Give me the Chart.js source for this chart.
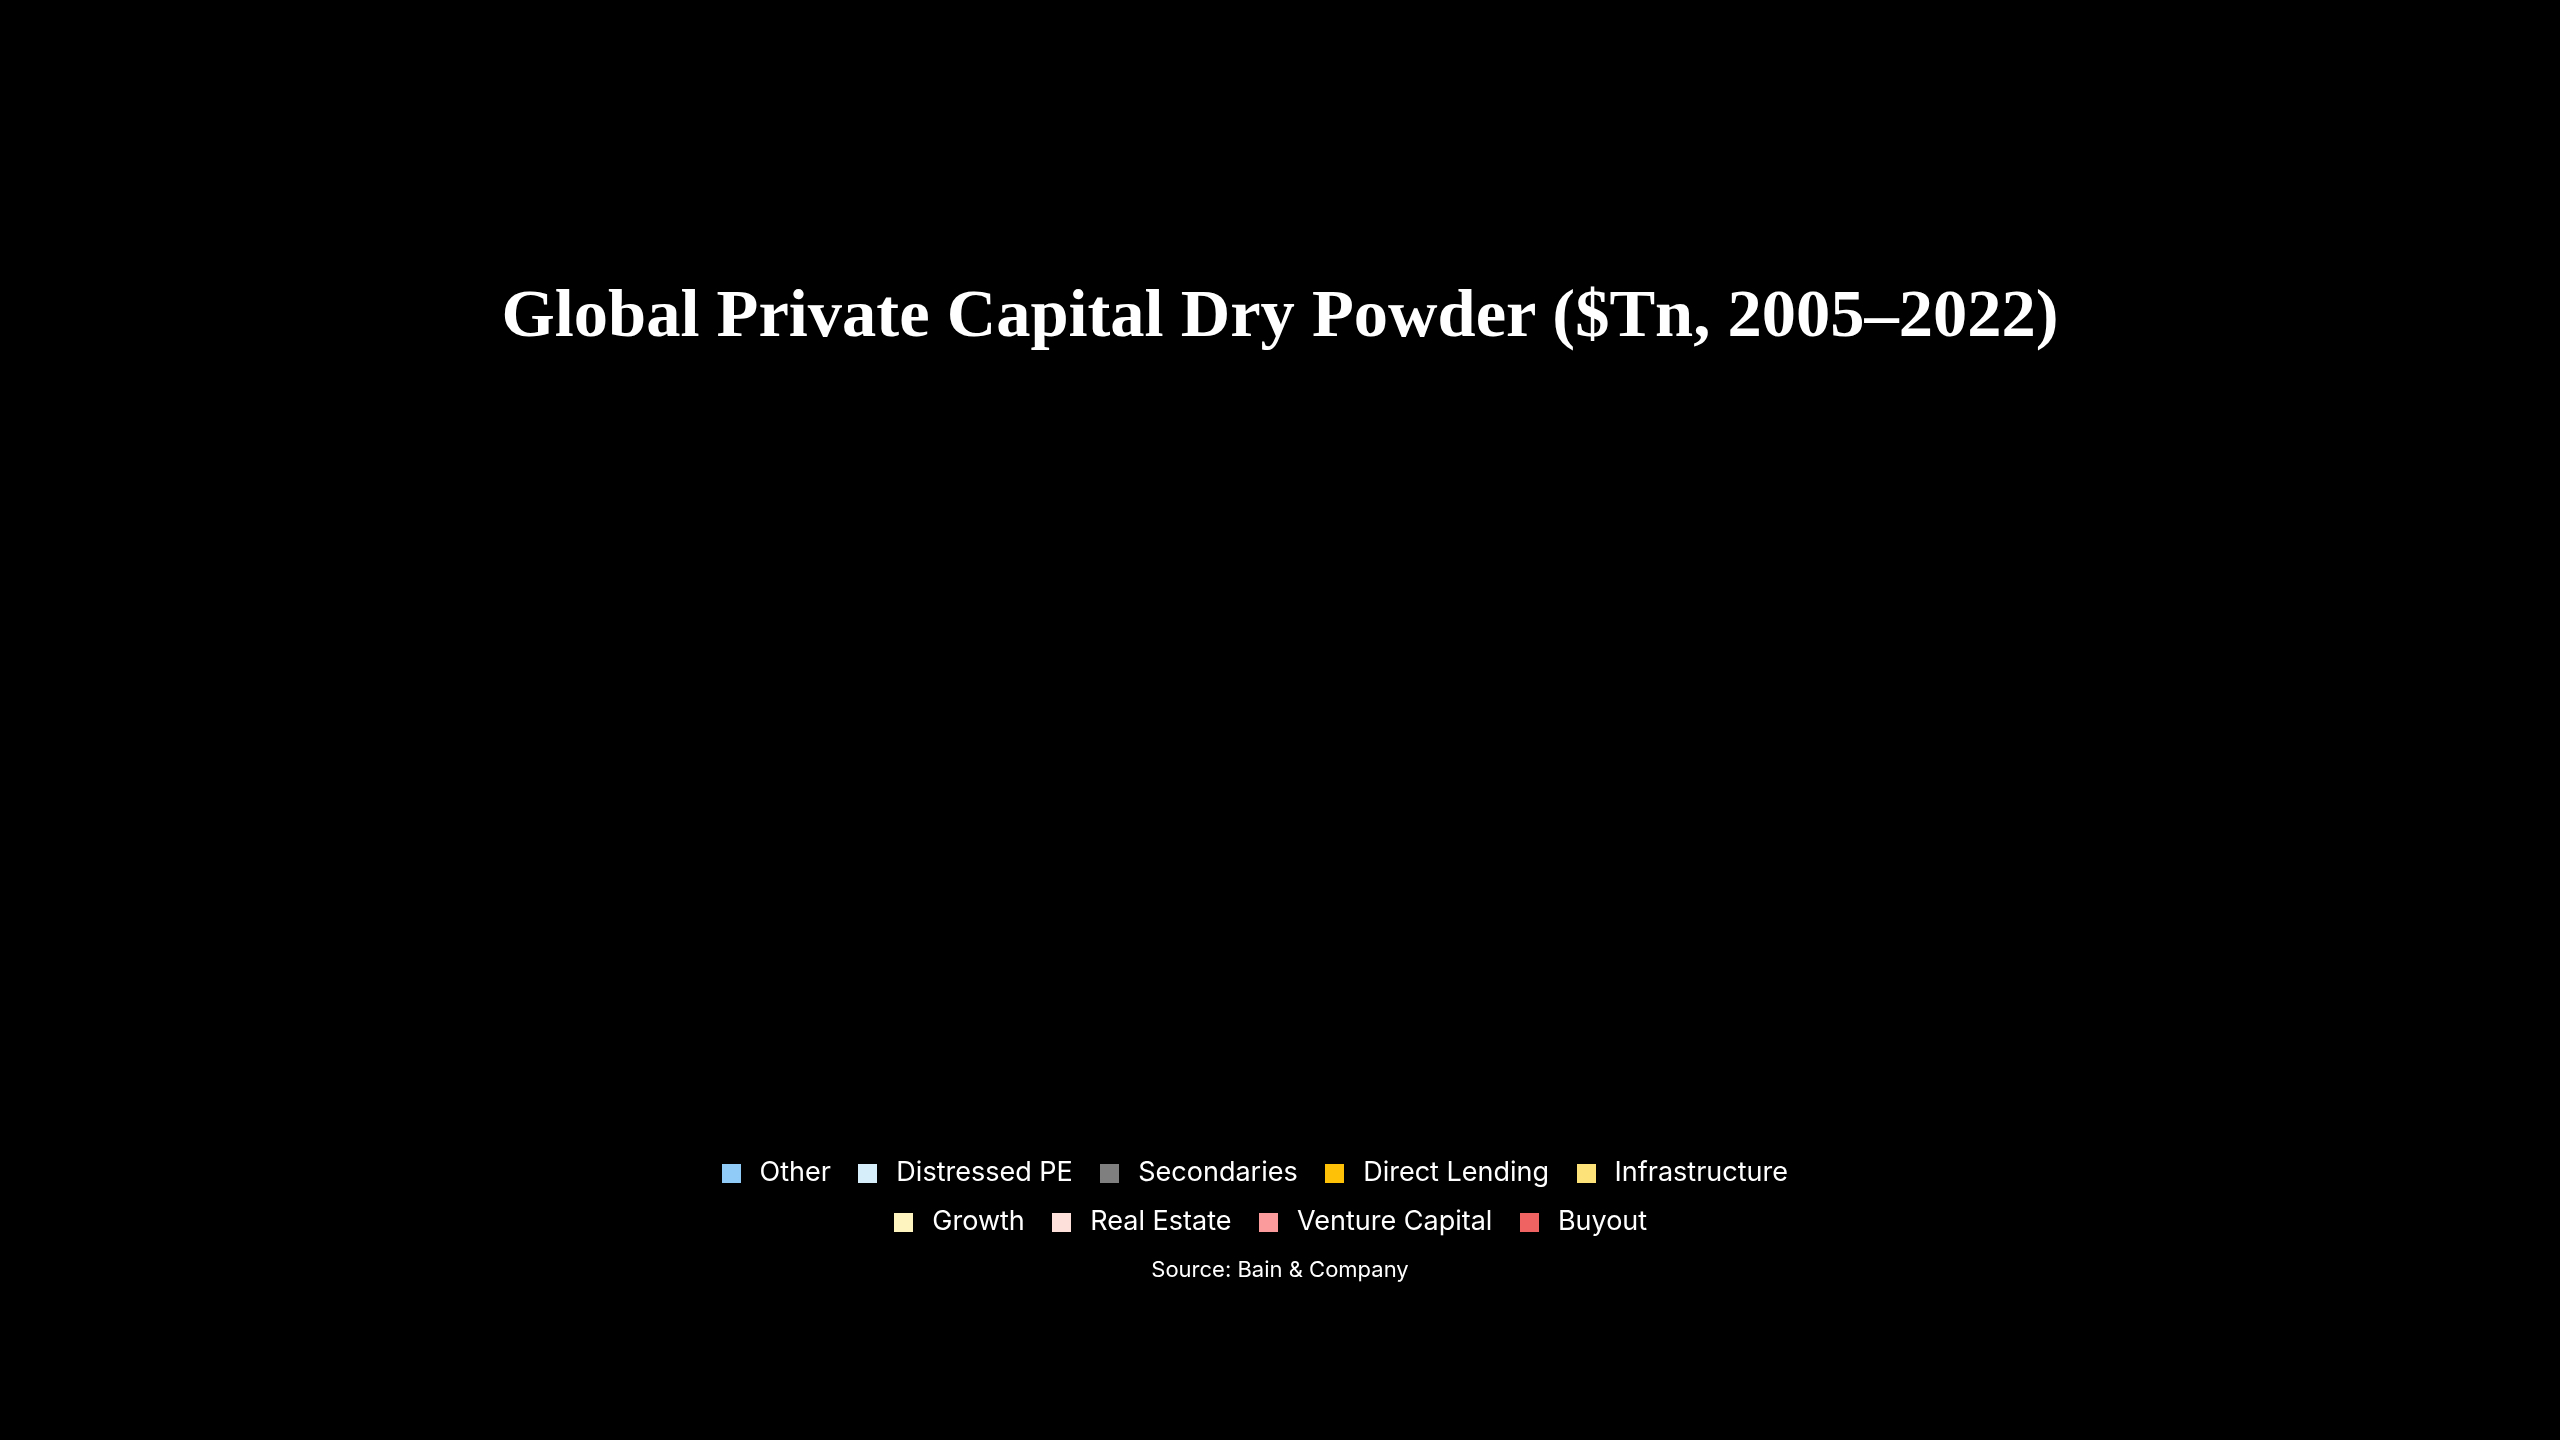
<!DOCTYPE html>
<html lang="en">
<head>
<meta charset="utf-8">
<title>Global Private Capital Dry Powder</title>
<script src="https://cdn.jsdelivr.net/npm/chart.js@4.4.1/dist/chart.umd.min.js"></script>
<style>
    html, body {
        margin: 0;
        padding: 0;
        background: #000;
    }
    body {
        width: 2560px;
        height: 1440px;
        position: relative;
        overflow: hidden;
    }
    h1 {
        position: absolute;
        top: 279px;
        left: 0;
        width: 100%;
        margin: 0;
        text-align: center;
        font: bold 68.5px/1 'Liberation Serif', serif;
        color: #fff;
    }
    .chart-wrap {
        position: absolute;
        left: 670px;
        top: 400px;
        width: 1220px;
        height: 884px;
    }
</style>
</head>
<body>
<h1>Global Private Capital Dry Powder ($Tn, 2005–2022)</h1>
<div class="chart-wrap"><canvas id="dryPowderChart"></canvas></div>

<script>
// Categories
const years = ['2005', '2006', '2007', '2008', '2009', '2010', '2011', '2012', '2013',
               '2014', '2015', '2016', '2017', '2018', '2019', '2020', '2021', '2022'];

// Series values ($Tn) - the reference plot area is blank, no bar can be read off it
const other = [];
const distressedPE = [];
const secondaries = [];
const directLending = [];
const infrastructure = [];
const growth = [];
const realEstate = [];
const ventureCapital = [];
const buyout = [];

const seriesNames = ['Other', 'Distressed PE', 'Secondaries', 'Direct Lending', 'Infrastructure',
                     'Growth', 'Real Estate', 'Venture Capital', 'Buyout'];
const seriesValues = [other, distressedPE, secondaries, directLending, infrastructure,
                      growth, realEstate, ventureCapital, buyout];
const seriesColors = ['#90cbf8', '#d5eefa', '#7f7f7f', '#ffc107', '#fde27a',
                      '#fdf4bf', '#fde0da', '#fb9b9b', '#ef6363'];

// Small square swatches used as legend point styles (keeps the box smaller than the slot)
const swatches = {};
function swatch(color) {
    if (!swatches[color]) {
        const c = document.createElement('canvas');
        c.width = 19;
        c.height = 19;
        const g = c.getContext('2d');
        g.fillStyle = color;
        g.fillRect(0, 0, 19, 19);
        swatches[color] = c;
    }
    return swatches[color];
}

// Legend rows in the original sit a little left of centre; nudge each row
const legendNudge = {
    id: 'legendNudge',
    afterUpdate(chart) {
        const lw = chart.legend && chart.legend.lineWidths;
        if (lw && lw.length > 1) {
            lw[0] += 56;
            lw[1] += 24;
        }
    }
};

Chart.defaults.color = '#ffffff';
Chart.defaults.font.family = "'Inter', sans-serif";

const ctx = document.getElementById('dryPowderChart').getContext('2d');

new Chart(ctx, {
    type: 'bar',
    data: {
        labels: years,
        datasets: seriesNames.map((name, i) => ({
            label: name,
            data: seriesValues[i],
            backgroundColor: seriesColors[i],
            borderWidth: 0
        }))
    },
    options: {
        responsive: true,
        maintainAspectRatio: false,
        animation: false,
        layout: {
            padding: 0
        },
        scales: {
            x: { stacked: true, display: false },
            y: { stacked: true, display: false }
        },
        plugins: {
            title: { display: false },
            legend: {
                position: 'bottom',
                labels: {
                    color: '#ffffff',
                    font: { family: "'Inter', sans-serif", size: 27 },
                    usePointStyle: true,
                    pointStyleWidth: 30,
                    padding: 22,
                    generateLabels: chart => chart.data.datasets.map((ds, i) => ({
                        text: ds.label,
                        fillStyle: ds.backgroundColor,
                        strokeStyle: ds.backgroundColor,
                        lineWidth: 0,
                        pointStyle: swatch(ds.backgroundColor),
                        fontColor: '#ffffff',
                        hidden: !chart.isDatasetVisible(i),
                        datasetIndex: i
                    }))
                }
            },
            subtitle: {
                display: true,
                position: 'bottom',
                text: 'Source: Bain & Company',
                color: '#ffffff',
                font: { family: "'Inter', sans-serif", size: 22, weight: 'normal' },
                padding: { top: 12, bottom: 0 }
            },
            tooltip: { enabled: false }
        }
    },
    plugins: [legendNudge]
});
</script>
</body>
</html>
